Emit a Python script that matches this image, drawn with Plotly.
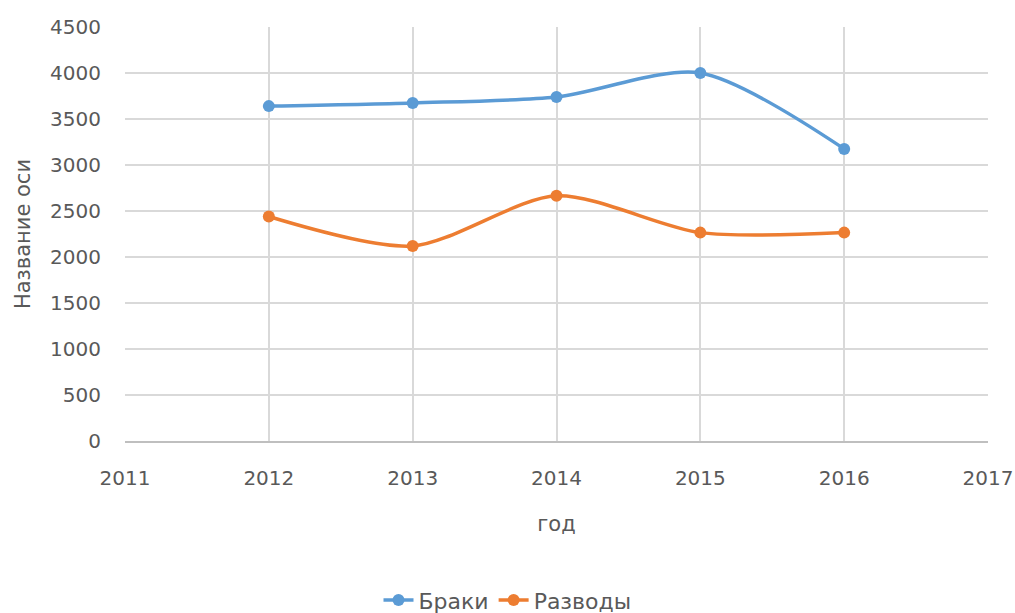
import plotly.graph_objects as go

years = [2012, 2013, 2014, 2015, 2016]
braki = [3640, 3675, 3740, 4000, 3175]
razvody = [2440, 2120, 2665, 2265, 2265]
x_ticks = [2011, 2012, 2013, 2014, 2015, 2016, 2017]
y_ticks = [0, 500, 1000, 1500, 2000, 2500, 3000, 3500, 4000, 4500]

fig = go.Figure()
fig.add_trace(go.Scatter(x=years, y=braki, name="Браки", mode="lines+markers",
                         line=dict(color="#5B9BD5", width=3.5, shape="spline", smoothing=0.8),
                         marker=dict(size=12, color="#5B9BD5")))
fig.add_trace(go.Scatter(x=years, y=razvody, name="Разводы", mode="lines+markers",
                         line=dict(color="#ED7D31", width=3.5, shape="spline", smoothing=0.8),
                         marker=dict(size=12, color="#ED7D31")))

font = "DejaVu Sans"
fig.update_layout(
    width=1015, height=613,
    margin=dict(l=125, r=27, t=27, b=172, autoexpand=False),
    paper_bgcolor="white", plot_bgcolor="white",
    font=dict(family=font, size=20, color="#595959"),
    showlegend=True,
    legend=dict(orientation="h", x=0.5, xanchor="center", xref="container",
                y=0.021, yanchor="middle", yref="container",
                font=dict(size=22, color="#595959")),
    xaxis=dict(range=[2011, 2017], tickvals=x_ticks, showgrid=True, gridcolor="#D9D9D9",
               gridwidth=1.5, zeroline=False, showline=True, linecolor="#BFBFBF", linewidth=1.5,
               ticks="", ticklabelstandoff=18, automargin=False,
               title=dict(text="год", font=dict(size=21, color="#595959"), standoff=28)),
    yaxis=dict(range=[0, 4500], tickvals=y_ticks, showgrid=True, gridcolor="#D9D9D9",
               gridwidth=1.5, zeroline=False, showline=False, ticks="",
               ticklabelstandoff=23, automargin=False,
               title=dict(text="Название оси", font=dict(size=21, color="#595959"), standoff=13)),
)
fig.write_html("out.html", config={"displayModeBar": False},
               post_script="document.body.style.margin='0';document.body.style.overflow='hidden';")
